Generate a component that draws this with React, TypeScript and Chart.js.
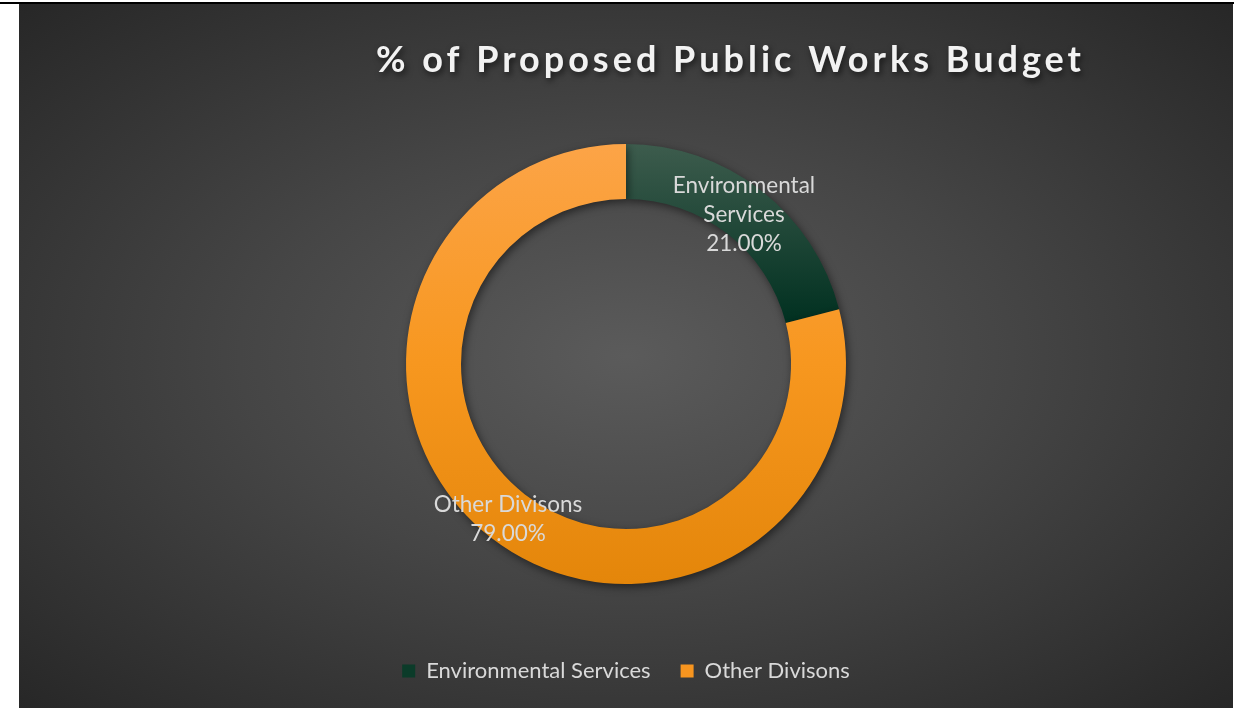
import React, { useEffect, useRef } from "react";
import { Chart, registerables } from "chart.js";

Chart.register(...registerables);

const categories = ["Environmental Services", "Other Divisons"];
const shares = [21, 79];
const valueLabels = ["21.00%", "79.00%"];
const labelLines = [["Environmental", "Services"], ["Other Divisons"]];
const legendColors = ["#0b3b29", "#f7951f"];
const chartTitle = "% of Proposed Public Works Budget";

const FONT = "Lato, 'Open Sans', sans-serif";

export default function App() {
  const ref = useRef<HTMLCanvasElement | null>(null);

  useEffect(() => {
    document.body.style.margin = "0";
    const canvas = ref.current;
    if (!canvas) return;

    const shadowPlugin = {
      id: "ringShadow",
      beforeDatasetsDraw(chart: any) {
        const ctx = chart.ctx;
        ctx.save();
        ctx.shadowColor = "rgba(0,0,0,0.5)";
        ctx.shadowBlur = 9;
        ctx.shadowOffsetX = 2;
        ctx.shadowOffsetY = 3;
      },
      afterDatasetsDraw(chart: any) {
        chart.ctx.restore();
      },
    };

    const labelPlugin = {
      id: "sliceLabels",
      afterDraw(chart: any) {
        const ctx = chart.ctx;
        const meta = chart.getDatasetMeta(0);
        ctx.save();
        ctx.font = `22.5px ${FONT}`;
        ctx.fillStyle = "#d9d9d9";
        ctx.textAlign = "center";
        ctx.textBaseline = "middle";
        meta.data.forEach((arc: any, i: number) => {
          const p = arc.tooltipPosition();
          const lines = [...labelLines[i], valueLabels[i]];
          const lh = 29;
          const startY = p.y + 3 - ((lines.length - 1) * lh) / 2;
          lines.forEach((ln, j) => ctx.fillText(ln, p.x, startY + j * lh));
        });
        // title
        const ls = 4;
        ctx.font = `bold 36px ${FONT}`;
        (ctx as any).letterSpacing = `${ls}px`;
        ctx.textAlign = "center";
        ctx.textBaseline = "alphabetic";
        ctx.shadowColor = "rgba(0,0,0,0.6)";
        ctx.shadowBlur = 6;
        ctx.shadowOffsetX = 2;
        ctx.shadowOffsetY = 3;
        ctx.fillStyle = "#f2f2f2";
        ctx.fillText(chartTitle, 709.5 + ls / 2, 68);
        ctx.restore();
      },
    };

    const sliceColor = (c: any) => {
      const chart = c.chart;
      const area = chart.chartArea;
      if (!area) return legendColors[c.dataIndex];
      const cy = (area.top + area.bottom) / 2;
      const g = chart.ctx.createLinearGradient(0, cy - 220, 0, c.dataIndex === 0 ? cy - 40 : cy + 220);
      if (c.dataIndex === 0) {
        g.addColorStop(0, "#3d5c4d");
        g.addColorStop(1, "#003020");
      } else {
        g.addColorStop(0, "#fca447");
        g.addColorStop(0.5, "#f7971f");
        g.addColorStop(1, "#e4860a");
      }
      return g;
    };

    const chart = new Chart(canvas, {
      type: "doughnut",
      data: {
        labels: categories,
        datasets: [
          {
            data: shares,
            backgroundColor: sliceColor as any,
            borderWidth: 0,
            radius: 220,
            cutout: "75%",
          } as any,
        ],
      },
      options: {
        animation: false,
        responsive: false,
        maintainAspectRatio: false,
        layout: { padding: { top: 94, bottom: 16, left: 0, right: 0 } },
        plugins: {
          title: { display: false },
          tooltip: { enabled: false },
          legend: {
            display: true,
            position: "bottom",
            labels: {
              font: { family: FONT, size: 22 },
              color: "#d9d9d9",
              boxWidth: 13,
              boxHeight: 13,
              padding: 30,
              generateLabels: () =>
                categories.map((t, i) => ({
                  text: t,
                  fillStyle: legendColors[i],
                  strokeStyle: "rgba(0,0,0,0)",
                  lineWidth: 0,
                  fontColor: "#d9d9d9",
                  hidden: false,
                  index: i,
                })),
            },
          },
        },
      },
      plugins: [shadowPlugin, labelPlugin],
    });
    return () => chart.destroy();
  }, []);

  return (
    <div style={{ position: "absolute", left: 0, top: 0, width: 1247, height: 708, background: "#ffffff", overflow: "hidden" }}>
      <div style={{ position: "absolute", left: 0, top: 2, width: 1234, height: 2, background: "#000" }} />
      <div
        style={{
          position: "absolute",
          left: 19,
          top: 4,
          width: 1214,
          height: 704,
          background: "radial-gradient(ellipse farthest-corner at 50% 50%, #5b5b5b 0%, #454545 45%, #272727 100%)",
        }}
      >
        <canvas ref={ref} width={1214} height={704} style={{ display: "block", width: 1214, height: 704 }} />
      </div>
    </div>
  );
}
